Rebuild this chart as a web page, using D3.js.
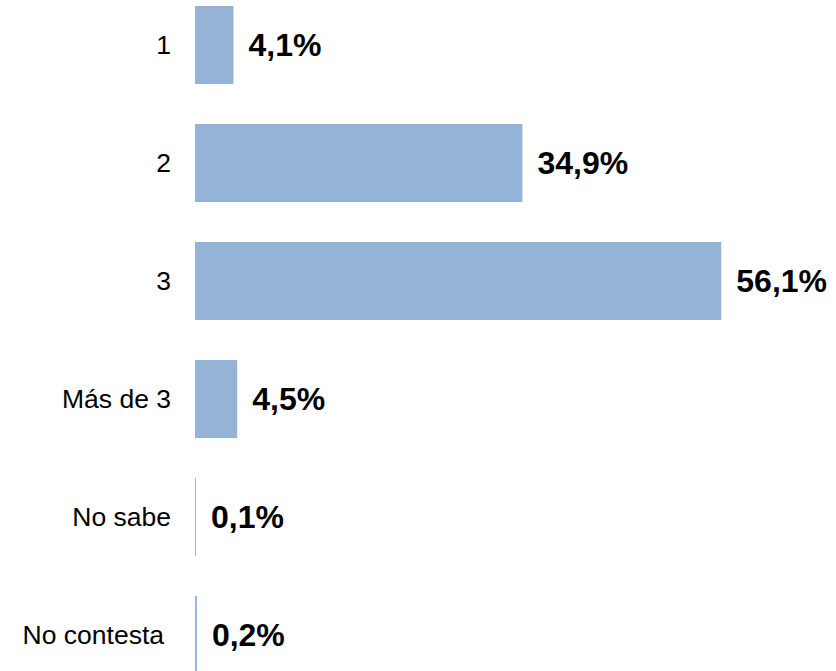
<!DOCTYPE html>
<html>
<head>
<meta charset="utf-8">
<script src="https://cdn.jsdelivr.net/npm/d3@7"></script>
<style>
  html, body { margin: 0; padding: 0; background: #fff; }
  svg { display: block; }
</style>
</head>
<body>
<svg id="chart" width="836" height="671"></svg>
<script>
// Answer categories and their shares (percent)
const categories = ["1", "2", "3", "Más de 3", "No sabe", "No contesta"];
const values = [4.1, 34.9, 56.1, 4.5, 0.1, 0.2];
const valueLabels = ["4,1%", "34,9%", "56,1%", "4,5%", "0,1%", "0,2%"];

const svg = d3.select("#chart");
const x0 = 195;

const x = d3.scaleLinear()
  .domain([0, 56.1])
  .range([x0, 721.3]);

const y = d3.scaleBand()
  .domain(categories)
  .range([-14, 694])
  .paddingInner(40 / 118)
  .paddingOuter(20 / 118);

const rows = categories.map((c, i) => ({ cat: c, v: values[i], label: valueLabels[i] }));

// Bars
svg.append("g")
  .selectAll("rect")
  .data(rows)
  .join("rect")
  .attr("x", x(0))
  .attr("y", d => y(d.cat))
  .attr("width", d => x(d.v) - x(0))
  .attr("height", y.bandwidth())
  .attr("fill", "#95b3d7");

// Category labels on the left (the longest one sits a little further in)
svg.append("g")
  .selectAll("text")
  .data(rows)
  .join("text")
  .attr("x", d => d.cat === "No contesta" ? 164 : 171)
  .attr("y", d => y(d.cat) + y.bandwidth() / 2)
  .attr("dy", "0.35em")
  .attr("text-anchor", "end")
  .attr("font-family", "Liberation Sans, Arial, sans-serif")
  .attr("font-size", 26.5)
  .attr("fill", "#000")
  .text(d => d.cat);

// Value labels next to each bar
svg.append("g")
  .selectAll("text")
  .data(rows)
  .join("text")
  .attr("x", d => x(d.v) + 15)
  .attr("y", d => y(d.cat) + y.bandwidth() / 2)
  .attr("dy", "0.35em")
  .attr("font-family", "Liberation Sans, Arial, sans-serif")
  .attr("font-size", 32)
  .attr("font-weight", "bold")
  .attr("fill", "#000")
  .text(d => d.label);
</script>
</body>
</html>
